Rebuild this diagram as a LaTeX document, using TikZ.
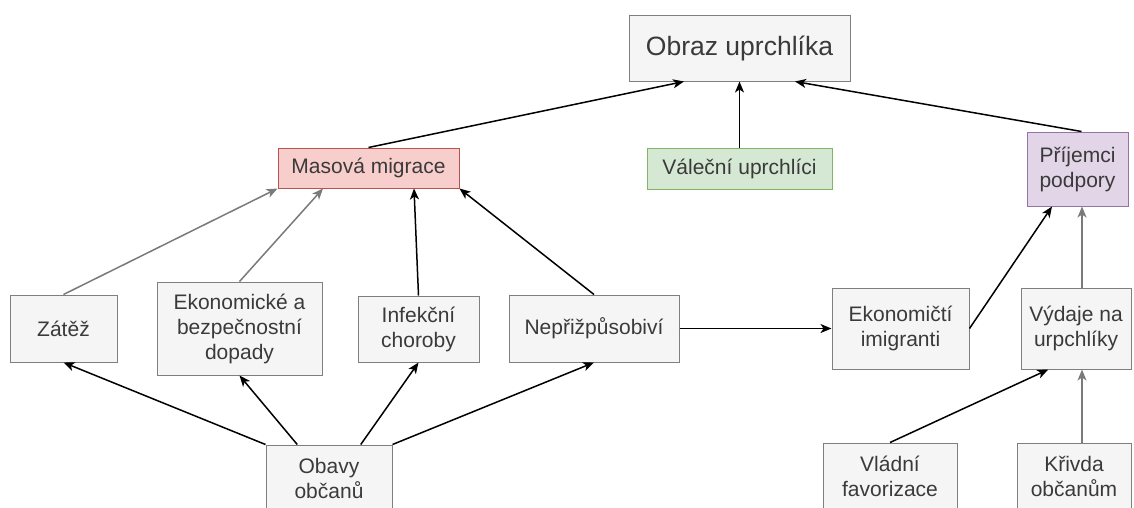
\documentclass[tikz,border=0pt]{standalone}
\usepackage{fontspec}
\setmainfont{Liberation Sans}
\usetikzlibrary{arrows.meta,calc}
\definecolor{boxfill}{HTML}{F5F5F5}
\definecolor{boxline}{HTML}{7F7F7F}
\definecolor{txt}{HTML}{3A3A3A}
\definecolor{redfill}{HTML}{F8CECC}
\definecolor{redline}{HTML}{B85450}
\definecolor{greenfill}{HTML}{D5E8D4}
\definecolor{greenline}{HTML}{82B366}
\definecolor{purplefill}{HTML}{E1D5E7}
\definecolor{purpleline}{HTML}{9673A6}
\definecolor{greyarrow}{HTML}{7A7A7A}
\begin{document}
\begin{tikzpicture}[x=1pt,y=-1pt,
  box/.style={draw=boxline, fill=boxfill, text=txt, line width=1pt, inner sep=0pt, align=center,
    font=\fontsize{21}{25}\selectfont},
  redbox/.style={box, draw=redline, fill=redfill},
  greenbox/.style={box, draw=greenline, fill=greenfill},
  purplebox/.style={box, draw=purpleline, fill=purplefill},
  arr/.style={-{Stealth[length=11pt,width=9pt,inset=3pt]}, line width=1.5pt, draw=black},
  garr/.style={arr, draw=greyarrow}]
\useasboundingbox (0,0) rectangle (1134,507);
\clip (0,0) rectangle (1134,507);
\fill[white] (0,0) rectangle (1134,507);

\node[box, minimum width=221pt, minimum height=66pt, font=\fontsize{26.5}{30}\selectfont] (obr) at (739.5,48) {Obraz uprchlíka};
\node[redbox, minimum width=181pt, minimum height=40pt] (mas) at (368.5,168) {Masová migrace};
\node[greenbox, minimum width=185pt, minimum height=41pt] (val) at (739.5,168.5) {Váleční uprchlíci};
\node[purplebox, minimum width=101pt, minimum height=74pt] (pri) at (1077.5,169) {Příjemci\\podpory};
\node[box, minimum width=107pt, minimum height=67pt] (zat) at (63.5,328.5) {Zátěž};
\node[box, minimum width=165pt, minimum height=93pt] (eko) at (239.5,328.5) {Ekonomické a\\bezpečnostní\\dopady};
\node[box, minimum width=121pt, minimum height=66pt] (inf) at (418.5,329) {Infekční\\choroby};
\node[box, minimum width=170pt, minimum height=67pt] (nep) at (594,328.5) {Nepřižpůsobiví};
\node[box, minimum width=137pt, minimum height=81pt] (ekm) at (900.5,328.5) {Ekonomičtí\\imigranti};
\node[box, minimum width=110pt, minimum height=81pt] (vyd) at (1076,328.5) {Výdaje na\\urpchlíky};
\node[box, minimum width=126pt, minimum height=66pt] (oba) at (329,478) {Obavy\\občanů};
\node[box, minimum width=134pt, minimum height=66pt] (vla) at (890,476) {Vládní\\favorizace};
\node[box, minimum width=114pt, minimum height=66pt] (kri) at (1074,476) {Křivda\\občanům};

\draw[arr] (mas.north) -- ($(obr.south west)!0.25!(obr.south east)$);
\draw[arr] (val.north) -- (obr.south);
\draw[arr] ($(pri.north)+(4,0)$) -- ($(obr.south west)!0.75!(obr.south east)$);
\draw[garr] (zat.north) -- (mas.south west);
\draw[garr] (eko.north) -- ($(mas.south west)!0.25!(mas.south east)$);
\draw[arr] (inf.north) -- ($(mas.south west)!0.75!(mas.south east)$);
\draw[arr] (nep.north) -- (mas.south east);
\draw[arr] (oba.north west) -- (zat.south);
\draw[arr] ($(oba.north west)!0.25!(oba.north east)$) -- (eko.south);
\draw[arr] ($(oba.north west)!0.75!(oba.north east)$) -- (inf.south);
\draw[arr] (oba.north east) -- (nep.south);
\draw[arr] (nep.east) -- (ekm.west);
\draw[arr] (ekm.east) -- ($(pri.south west)!0.25!(pri.south east)$);
\draw[garr] ($(vyd.north)+(6,0)$) -- ($(pri.south)+(4.5,0)$);
\draw[arr] (vla.north) -- ($(vyd.south west)!0.25!(vyd.south east)$);
\draw[garr] ($(kri.north)+(8,0)$) -- ($(vyd.south)+(6,0)$);
\end{tikzpicture}
\end{document}
